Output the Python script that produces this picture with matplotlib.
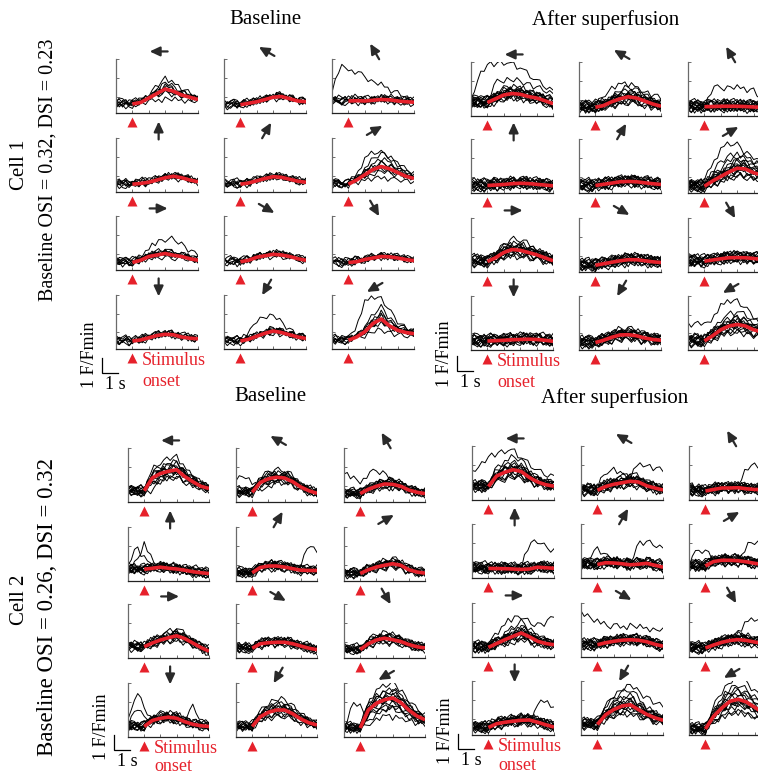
import numpy as np
import matplotlib
matplotlib.use('Agg')
import matplotlib.pyplot as plt

plt.rcParams['font.family'] = ['Liberation Serif', 'DejaVu Serif']

RED = '#e6212b'
W, H = 758, 776

# time grids (s); stimulus onset at 1 s
t_trace = np.arange(26) * 0.2
t_mean = np.arange(9) * 0.5 + 1.0
t_out = np.arange(11) * 0.5

# direction of motion for the 12 panels (deg), row by row
directions = [180, 150, 120, 90, 60, 30, 0, -30, -60, -90, -120, -150]

# mean response (F/Fmin) from onset to 5 s, 12 panels per block
mean_c1_base = [
    [1.0, 1.1, 1.4, 1.7, 2.0, 1.85, 1.6, 1.45, 1.3],
    [0.95, 1.05, 1.15, 1.3, 1.45, 1.5, 1.35, 1.2, 1.15],
    [1.2, 1.22, 1.2, 1.25, 1.3, 1.28, 1.2, 1.15, 1.12],
    [0.92, 0.97, 1.05, 1.2, 1.35, 1.45, 1.35, 1.2, 1.08],
    [0.92, 1.0, 1.15, 1.3, 1.42, 1.38, 1.25, 1.12, 1.05],
    [0.92, 1.2, 1.55, 1.9, 2.1, 1.95, 1.7, 1.45, 1.3],
    [0.9, 1.05, 1.3, 1.4, 1.5, 1.38, 1.3, 1.15, 1.05],
    [0.95, 1.05, 1.25, 1.35, 1.45, 1.4, 1.3, 1.15, 1.05],
    [0.9, 0.95, 1.1, 1.2, 1.3, 1.28, 1.2, 1.1, 1.02],
    [0.93, 1.0, 1.15, 1.3, 1.38, 1.35, 1.2, 1.12, 1.08],
    [0.93, 1.05, 1.25, 1.45, 1.6, 1.5, 1.35, 1.2, 1.1],
    [0.98, 1.2, 1.55, 2.1, 2.4, 1.95, 1.65, 1.5, 1.42],
]
mean_c1_after = [
    [1.3, 1.55, 1.8, 1.9, 1.85, 1.7, 1.6, 1.42, 1.22],
    [0.98, 1.1, 1.35, 1.55, 1.68, 1.6, 1.4, 1.2, 1.05],
    [1.02, 1.03, 1.05, 1.05, 1.05, 1.03, 1.0, 0.98, 0.95],
    [0.9, 0.93, 0.97, 1.02, 1.05, 1.03, 0.98, 0.93, 0.88],
    [0.9, 0.98, 1.06, 1.15, 1.17, 1.15, 1.08, 1.02, 0.97],
    [0.85, 1.2, 1.5, 1.8, 2.05, 2.0, 1.75, 1.6, 1.45],
    [1.1, 1.35, 1.7, 1.9, 1.85, 1.7, 1.55, 1.35, 1.15],
    [0.85, 0.95, 1.05, 1.15, 1.22, 1.22, 1.15, 1.08, 1.03],
    [1.12, 1.2, 1.28, 1.35, 1.36, 1.35, 1.3, 1.25, 1.2],
    [1.0, 1.02, 1.05, 1.08, 1.1, 1.12, 1.1, 1.05, 0.98],
    [0.9, 1.05, 1.25, 1.4, 1.42, 1.35, 1.2, 1.1, 1.05],
    [1.0, 1.35, 1.75, 2.0, 2.1, 2.0, 1.75, 1.6, 1.5],
]
mean_c2_base = [
    [1.15, 2.0, 2.3, 2.45, 2.55, 2.1, 1.75, 1.45, 1.3],
    [1.05, 1.7, 1.95, 2.05, 2.0, 1.75, 1.4, 1.15, 0.98],
    [0.96, 1.25, 1.45, 1.6, 1.58, 1.45, 1.2, 1.05, 0.96],
    [1.18, 1.25, 1.32, 1.25, 1.2, 1.12, 1.02, 0.95, 0.9],
    [0.95, 1.3, 1.4, 1.4, 1.33, 1.22, 1.12, 1.1, 1.1],
    [0.9, 1.15, 1.33, 1.45, 1.55, 1.45, 1.15, 1.0, 0.92],
    [1.15, 1.4, 1.6, 1.75, 1.88, 1.7, 1.4, 1.1, 0.85],
    [1.05, 1.35, 1.42, 1.45, 1.45, 1.35, 1.2, 1.05, 0.96],
    [0.96, 1.35, 1.6, 1.72, 1.62, 1.5, 1.3, 1.15, 1.07],
    [1.1, 1.5, 1.65, 1.72, 1.65, 1.42, 1.25, 1.15, 1.1],
    [1.1, 1.75, 2.05, 2.2, 2.2, 1.95, 1.6, 1.35, 1.2],
    [1.0, 2.2, 2.65, 2.88, 3.0, 2.7, 2.2, 1.8, 1.55],
]
mean_c2_after = [
    [1.3, 2.0, 2.25, 2.42, 2.3, 1.9, 1.6, 1.42, 1.32],
    [1.05, 1.3, 1.45, 1.55, 1.65, 1.6, 1.35, 1.2, 1.07],
    [1.0, 1.1, 1.2, 1.2, 1.22, 1.15, 1.1, 1.1, 1.1],
    [1.04, 1.03, 1.02, 1.0, 0.97, 1.0, 1.12, 1.08, 1.05],
    [1.3, 1.42, 1.4, 1.35, 1.28, 1.32, 1.38, 1.25, 1.12],
    [1.2, 1.5, 1.58, 1.58, 1.55, 1.48, 1.38, 1.3, 1.25],
    [1.04, 1.3, 1.55, 1.78, 2.0, 1.75, 1.45, 1.3, 1.22],
    [1.22, 1.35, 1.45, 1.52, 1.55, 1.52, 1.42, 1.25, 1.12],
    [1.0, 1.2, 1.38, 1.5, 1.56, 1.5, 1.4, 1.3, 1.25],
    [0.9, 1.15, 1.25, 1.32, 1.38, 1.4, 1.25, 1.08, 0.93],
    [1.1, 1.75, 2.1, 2.33, 2.42, 2.1, 1.78, 1.55, 1.38],
    [0.8, 1.65, 2.2, 2.65, 2.78, 2.6, 2.25, 1.9, 1.6],
]

# how far single trials stray from the mean, per panel
spread_c1_base = [0.9, 0.5, 0.3, 0.5, 0.4, 0.9, 0.7, 0.6, 0.5, 0.4, 0.5, 0.7]
spread_c1_after = [0.6, 0.7, 0.4, 0.5, 0.5, 0.6, 0.7, 0.6, 0.5, 0.4, 0.6, 0.6]
spread_c2_base = [0.5, 0.4, 0.4, 0.5, 0.4, 0.4, 0.5, 0.4, 0.4, 0.4, 0.5, 0.4]
spread_c2_after = [0.6, 0.6, 0.5, 0.5, 0.5, 0.5, 0.6, 0.6, 0.5, 0.5, 0.6, 0.6]

n_trials = [8, 14, 12, 14]
noise_scale = [1.5, 1.7, 1.6, 1.7]
offset_scale = [1.0, 1.5, 1.1, 1.3]

# per-trial gain and baseline offset
gains = [0.2, 1.6, 0.7, 1.25, 0.45, 1.9, 0.9, 1.1, 0.35, 1.4, 0.8, 2.2, 0.6, 1.0]
offsets = [0.06, -0.14, 0.16, -0.04, 0.22, -0.1, 0.0, 0.1, -0.08, 0.13, -0.16, 0.03, 0.19, -0.12]

# trial-to-trial fluctuation, one row per trial (26 samples, 0.2 s apart)
wiggle = [
    [0.05, -0.08, 0.12, 0.02, -0.10, 0.08, -0.04, 0.15, 0.00, -0.12, 0.06, 0.10, -0.06, 0.03, -0.14, 0.09, 0.01, -0.07, 0.12, -0.02, 0.05, -0.11, 0.07, 0.00, -0.05, 0.08],
    [-0.10, 0.04, -0.02, 0.11, -0.06, -0.13, 0.07, 0.02, 0.14, -0.04, -0.09, 0.05, 0.12, -0.08, 0.03, 0.10, -0.12, 0.06, -0.03, 0.09, -0.07, 0.04, 0.13, -0.06, 0.02, -0.09],
    [0.12, 0.00, -0.09, 0.06, 0.14, -0.03, -0.11, 0.08, -0.05, 0.10, 0.03, -0.13, 0.02, 0.11, -0.04, -0.09, 0.07, 0.13, -0.06, 0.01, -0.12, 0.08, -0.02, 0.10, -0.07, 0.04],
    [-0.04, 0.10, 0.06, -0.12, 0.03, 0.09, -0.07, -0.01, 0.12, 0.05, -0.10, 0.07, -0.03, -0.12, 0.09, 0.04, -0.05, 0.11, 0.02, -0.13, 0.06, 0.10, -0.08, 0.03, 0.12, -0.02],
    [0.08, -0.13, 0.01, 0.09, -0.02, 0.13, 0.04, -0.09, 0.06, -0.06, 0.12, -0.01, 0.08, -0.10, 0.05, 0.13, -0.07, -0.02, 0.10, 0.06, -0.09, 0.02, 0.11, -0.12, 0.04, 0.07],
    [-0.07, 0.06, 0.13, -0.05, -0.11, 0.02, 0.10, 0.05, -0.13, 0.08, 0.00, 0.11, -0.08, 0.06, 0.12, -0.03, 0.09, -0.11, 0.04, 0.10, 0.02, -0.08, 0.05, 0.09, -0.10, 0.01],
    [0.02, 0.11, -0.06, -0.10, 0.08, 0.05, -0.02, 0.12, 0.07, -0.11, 0.04, -0.05, 0.13, 0.01, -0.09, 0.06, 0.11, -0.04, -0.10, 0.07, 0.12, -0.03, -0.06, 0.08, 0.03, -0.11],
    [0.10, -0.03, 0.04, 0.13, -0.08, -0.01, 0.09, -0.12, 0.03, 0.11, -0.07, 0.02, 0.06, 0.12, -0.11, 0.00, 0.05, 0.10, -0.09, -0.04, 0.08, 0.13, -0.05, -0.10, 0.06, 0.02],
    [-0.12, 0.07, 0.00, -0.04, 0.10, -0.09, 0.13, 0.03, -0.06, 0.02, 0.11, -0.10, 0.04, -0.02, 0.08, -0.12, 0.12, 0.02, 0.06, -0.08, -0.01, 0.09, -0.11, 0.05, 0.10, -0.06],
    [0.04, 0.13, -0.11, 0.07, 0.01, -0.06, 0.05, -0.08, 0.10, 0.13, -0.02, -0.12, 0.09, 0.05, -0.06, 0.11, -0.02, 0.07, -0.13, 0.03, 0.10, -0.05, 0.01, 0.12, -0.08, 0.05],
    [-0.02, -0.09, 0.08, 0.12, -0.13, 0.06, 0.01, 0.10, -0.10, 0.04, 0.13, 0.06, -0.11, 0.09, 0.00, -0.07, 0.13, -0.09, 0.03, 0.11, -0.06, 0.00, 0.10, -0.03, -0.12, 0.09],
    [0.13, 0.03, -0.05, -0.13, 0.06, 0.11, -0.09, 0.04, 0.08, -0.03, -0.12, 0.10, 0.00, -0.06, 0.13, 0.02, -0.10, 0.05, 0.09, -0.11, 0.03, 0.12, -0.04, -0.08, 0.07, 0.00],
    [-0.06, 0.12, 0.09, -0.02, -0.12, 0.04, 0.12, -0.05, 0.01, -0.13, 0.07, 0.03, 0.11, -0.09, -0.02, 0.12, 0.04, -0.13, 0.08, 0.02, -0.10, 0.06, 0.13, -0.01, -0.09, 0.11],
    [0.07, -0.11, 0.03, 0.10, 0.05, -0.12, 0.02, 0.11, -0.08, 0.06, -0.04, 0.13, -0.12, 0.07, 0.04, -0.10, 0.01, 0.12, -0.05, -0.09, 0.11, 0.04, -0.13, 0.06, 0.09, -0.03],
]

# odd single trials that do not follow the mean (0..5 s, 0.5 s apart)
outliers = {
    (0, 2): [[1.7, 3.6, 3.3, 3.05, 2.85, 2.4, 2.3, 1.95, 1.75, 1.4, 1.2]],
    (0, 5): [[1.0, 0.95, 1.0, 1.6, 2.6, 3.05, 3.0, 2.8, 2.2, 1.9, 1.6]],
    (0, 6): [[1.2, 1.1, 1.0, 1.3, 1.8, 2.3, 2.4, 2.5, 2.1, 1.7, 1.4]],
    (0, 10): [[1.0, 1.0, 1.0, 1.4, 2.3, 2.6, 2.6, 2.2, 1.7, 1.3, 1.1]],
    (0, 11): [[1.0, 1.0, 1.1, 1.9, 3.5, 3.9, 3.7, 3.0, 2.2, 1.8, 1.6]],
    (1, 0): [[1.4, 3.0, 3.85, 3.9, 3.9, 3.85, 3.6, 3.2, 2.7, 2.4, 2.1],
             [1.2, 1.2, 1.3, 2.7, 2.8, 2.8, 2.7, 2.5, 2.3, 2.1, 1.9]],
    (1, 1): [[1.0, 1.0, 1.1, 1.7, 2.2, 2.6, 2.5, 2.3, 2.0, 1.8, 1.6]],
    (1, 2): [[1.1, 1.0, 1.1, 2.2, 2.3, 2.25, 2.3, 2.2, 2.1, 1.4, 1.2]],
    (1, 5): [[0.9, 1.0, 1.2, 2.4, 3.3, 3.7, 3.6, 3.1, 2.8, 2.3, 2.1],
             [0.9, 1.0, 1.1, 1.8, 2.5, 2.9, 2.8, 2.6, 2.5, 2.3, 2.0]],
    (1, 11): [[2.1, 2.2, 2.0, 2.5, 3.3, 3.7, 3.6, 3.2, 2.6, 2.3, 2.0]],
    (2, 0): [[1.0, 0.8, 0.9, 1.2, 1.7, 2.3, 2.6, 2.5, 2.0, 1.6, 1.3]],
    (2, 1): [[2.0, 2.1, 1.7, 1.2, 1.3, 1.8, 2.3, 2.0, 1.5, 1.1, 1.0]],
    (2, 2): [[2.2, 2.1, 1.7, 2.2, 2.5, 2.3, 1.8, 1.5, 1.3, 1.1, 1.0]],
    (2, 3): [[1.5, 2.6, 2.0, 1.3, 1.5, 1.4, 1.3, 1.2, 1.1, 1.0, 1.0],
             [1.2, 1.6, 2.9, 1.7, 1.3, 1.2, 1.1, 1.0, 1.0, 0.9, 0.9]],
    (2, 4): [[1.0, 1.0, 1.0, 1.3, 1.5, 1.4, 1.3, 1.4, 1.3, 2.95, 2.3]],
    (2, 9): [[1.4, 3.4, 2.4, 1.5, 1.6, 1.5, 1.4, 1.3, 1.2, 1.1, 1.0],
             [1.0, 2.5, 1.7, 1.4, 1.6, 1.5, 1.5, 1.6, 2.4, 1.5, 1.2]],
    (2, 11): [[1.0, 2.6, 2.4, 1.4, 1.8, 2.2, 2.3, 2.0, 1.7, 1.5, 1.3],
              [0.9, 0.9, 0.9, 1.2, 1.5, 1.9, 1.7, 1.6, 1.5, 1.3, 1.2]],
    (3, 0): [[2.2, 2.6, 3.3, 3.5, 3.6, 3.7, 3.2, 2.8, 2.3, 2.1, 2.0]],
    (3, 1): [[1.2, 1.3, 1.3, 2.2, 2.4, 2.2, 1.9, 2.8, 2.7, 2.5, 2.4]],
    (3, 2): [[1.4, 1.2, 1.1, 1.2, 1.4, 1.3, 1.2, 2.6, 2.7, 2.5, 2.4]],
    (3, 3): [[1.1, 1.0, 1.1, 1.0, 1.2, 1.1, 1.1, 2.7, 2.8, 2.5, 2.2]],
    (3, 4): [[1.3, 1.9, 2.3, 1.9, 1.7, 1.5, 1.4, 2.7, 2.8, 2.6, 2.4]],
    (3, 5): [[1.2, 2.3, 2.2, 1.6, 1.5, 1.4, 1.4, 2.6, 2.8, 2.7, 2.6]],
    (3, 6): [[1.3, 1.2, 1.4, 1.9, 2.6, 3.0, 3.1, 2.7, 2.5, 2.7, 3.1]],
    (3, 7): [[3.4, 3.0, 2.8, 2.45, 2.5, 2.4, 2.5, 2.4, 2.3, 2.2, 2.2]],
    (3, 8): [[1.0, 1.0, 1.1, 1.3, 1.6, 1.7, 2.0, 2.8, 2.9, 2.7, 2.6]],
    (3, 9): [[1.0, 1.0, 0.9, 1.1, 1.3, 1.4, 1.2, 1.0, 2.6, 2.6, 2.2]],
    (3, 10): [[1.0, 1.2, 1.5, 2.3, 3.0, 3.5, 3.7, 3.3, 2.9, 2.5, 2.3]],
}

# block layout in pixels: column lefts, row tops, panel width
blocks = [
    dict(means=mean_c1_base, spread=spread_c1_base, cols=[116, 224, 332], rows=[59, 138, 216, 295], w=82,
         bar_y=-1.2, lab_dy=6, onset_dy=2.15),
    dict(means=mean_c1_after, spread=spread_c1_after, cols=[471, 579, 688], rows=[62, 139, 218, 296], w=82,
         bar_y=-1.0, lab_dy=4, onset_dy=2.15),
    dict(means=mean_c2_base, spread=spread_c2_base, cols=[128, 236, 344], rows=[448, 527, 604, 683], w=81,
         bar_y=-0.47, lab_dy=-10, onset_dy=1.95),
    dict(means=mean_c2_after, spread=spread_c2_after, cols=[472, 581, 689], rows=[446, 524, 603, 681], w=82,
         bar_y=-0.53, lab_dy=-4, onset_dy=2.05),
]
PH = 54
YLO, YHI = 0.4, 4.0

fig = plt.figure(figsize=(W / 100, H / 100), dpi=100)


def px_axes(left, top, w, h):
    return fig.add_axes([left / W, 1 - (top + h) / H, w / W, h / H])


def draw_arrow(ax, ang, w, h):
    th = np.deg2rad(ang)
    L = 18.0
    cx, cy = 0.52, 1.14
    dx = 0.5 * L * np.cos(th) / w
    dy = 0.5 * L * np.sin(th) / h
    ax.annotate('', xy=(cx + dx, cy + dy), xytext=(cx - dx, cy - dy),
                xycoords='axes fraction', annotation_clip=False,
                arrowprops=dict(arrowstyle='-|>,head_length=0.6,head_width=0.28',
                                color='#2a2a2a', lw=1.6, shrinkA=0, shrinkB=0,
                                mutation_scale=10))


for b, blk in enumerate(blocks):
    for i in range(12):
        r, c = divmod(i, 3)
        ax = px_axes(blk['cols'][c], blk['rows'][r], blk['w'], PH)
        mean = blk['means'][i]
        m_full = np.interp(t_trace, t_mean, mean)
        sp = blk['spread'][i]
        for k in range(n_trials[b]):
            g = 1 + sp * (gains[k] - 1)
            wg = np.array(wiggle[(3 * k + i + 5 * b) % 14]) * noise_scale[b]
            y = mean[0] + offsets[k] * offset_scale[b] + g * (m_full - mean[0]) + wg
            ax.plot(t_trace, y, color='black', lw=0.7)
        for j, tr in enumerate(outliers.get((b, i), [])):
            wg = np.array(wiggle[(i + 7 + 4 * j) % 14]) * noise_scale[b]
            ax.plot(t_trace, np.interp(t_trace, t_out, tr) + wg, color='black', lw=0.7)
        ax.plot(t_mean, mean, color=RED, lw=2.6, zorder=5, solid_capstyle='butt')

        ax.set_xlim(0, 5)
        ax.set_ylim(YLO, YHI)
        ax.set_xticks(range(6))
        ax.set_yticks([1.5, 2.75, 4.0])
        ax.set_xticklabels([])
        ax.set_yticklabels([])
        ax.tick_params(direction='in', length=2, width=0.6, colors='#555555')
        for s in ['top', 'right']:
            ax.spines[s].set_visible(False)
        ax.spines['left'].set_color('#6a6a6a')
        ax.spines['bottom'].set_color('#222222')
        ax.spines['left'].set_linewidth(0.9)
        ax.spines['bottom'].set_linewidth(0.9)
        ax.patch.set_visible(False)

        # stimulus onset marker
        ax.plot([1], [-0.16], marker='^', ms=6.5, color=RED, mec='none',
                transform=ax.get_xaxis_transform(), clip_on=False)
        draw_arrow(ax, directions[i], blk['w'], PH)

        if i == 9:
            # scale bar: 1 s by 1 F/Fmin
            x0 = -0.85
            yb = blk['bar_y']
            ax.plot([x0, x0, x0 + 1], [yb + 1, yb, yb], color='black', lw=0.9,
                    clip_on=False, solid_joinstyle='miter')
            ycen = YLO - blk['lab_dy'] / 15.0
            ax.text(x0 - 0.25, ycen, '1 F/Fmin', rotation=90, ha='right', va='center',
                    fontsize=13, clip_on=False)
            ax.text(x0 + 0.8, yb - 0.75, '1 s', ha='center', va='center', fontsize=13)
            ax.text(1.6, YLO - 0.75, 'Stimulus', ha='left', va='center', fontsize=13, color=RED)
            ax.text(1.6, YLO - blk['onset_dy'], 'onset', ha='left', va='center',
                    fontsize=13, color=RED)

# titles
for x, y, s in [(265, 20, 'Baseline'), (606, 20, 'After superfusion'),
                (270, 397, 'Baseline'), (615, 398, 'After superfusion')]:
    fig.text(x / W, 1 - y / H, s, ha='center', va='center', fontsize=15)

# cell labels
fig.text(20 / W, 1 - 165 / H, 'Cell 1', rotation=90, ha='center', va='center', fontsize=15)
fig.text(48 / W, 1 - 170 / H, 'Baseline OSI = 0.32, DSI = 0.23', rotation=90,
         ha='center', va='center', fontsize=14.5)
fig.text(20 / W, 1 - 600 / H, 'Cell 2', rotation=90, ha='center', va='center', fontsize=15)
fig.text(48 / W, 1 - 607 / H, 'Baseline OSI = 0.26, DSI = 0.32', rotation=90,
         ha='center', va='center', fontsize=16.5)

fig.savefig('out.png', dpi=100)
